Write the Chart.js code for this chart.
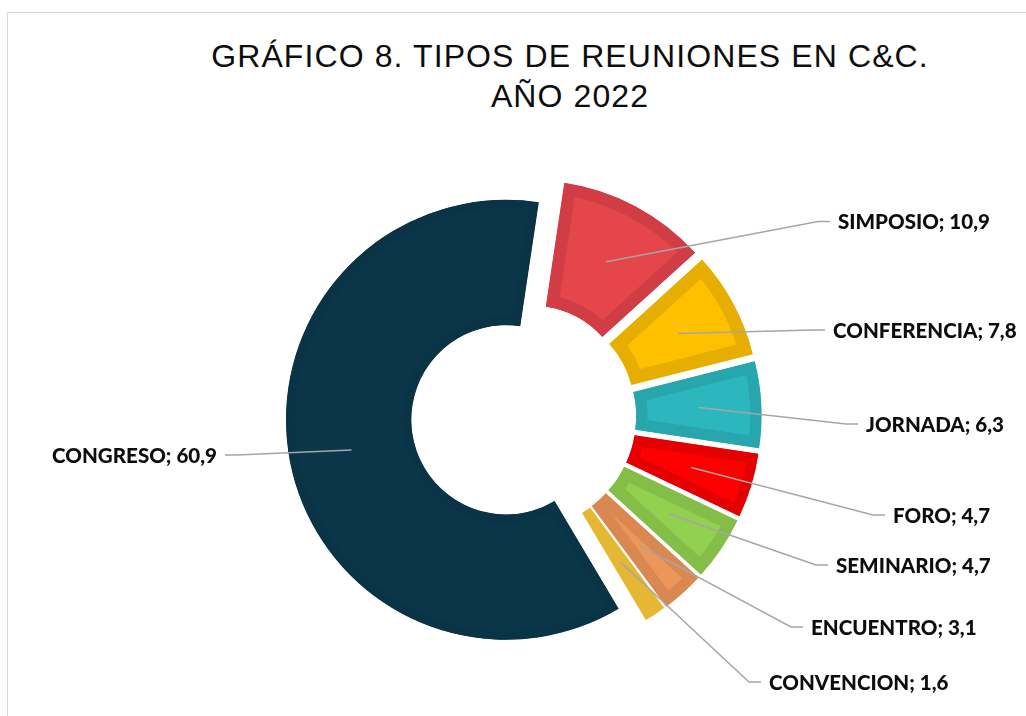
<!DOCTYPE html>
<html><head><meta charset="utf-8">
<script src="https://cdn.jsdelivr.net/npm/chart.js@4.4.1/dist/chart.umd.min.js"></script>
<style>
html,body{margin:0;padding:0;background:#fff;width:1026px;height:716px;overflow:hidden;}
#frame{position:absolute;left:7px;top:12px;width:1030px;height:720px;border-top:1px solid #d9d9d9;border-left:1px solid #d9d9d9;box-sizing:border-box;}
#title{position:absolute;left:170px;width:800px;top:36px;text-align:center;font-family:"Liberation Sans",Arial,sans-serif;font-size:32px;line-height:40px;letter-spacing:1.1px;color:#0d0d0d;}
#c{position:absolute;left:0;top:0;}
</style></head><body>
<div id="frame"></div>
<div id="title">GRÁFICO 8. TIPOS DE REUNIONES EN C&amp;C.<br>AÑO 2022</div>
<canvas id="c" width="1026" height="716"></canvas>
<script>
// ---- data ----
const categories = ['SIMPOSIO','CONFERENCIA','JORNADA','FORO','SEMINARIO','ENCUENTRO','CONVENCION','CONGRESO'];
const values = [10.9, 7.8, 6.3, 4.7, 4.7, 3.1, 1.6, 60.9];
const valueLabels = ['10,9','7,8','6,3','4,7','4,7','3,1','1,6','60,9'];

// ---- styles ----
const fillColors   = ['#E4464C','#FFC000','#2BB7BD','#FF0000','#92D050','#ED965A','#E5B834','#0B3649'];
const borderColors = ['#D13D45','#E6AE00','#27A7AD','#E40000','#84BD48','#D98852','#E5B834','#0A3345'];
const borderWidths = [12, 13, 11, 10, 12, 11, 0, 8];
// label anchor positions (text edge x, middle y, alignment)
const labelLayout = [
  [838, 221.5, 'left'],
  [833, 330, 'left'],
  [866, 424, 'left'],
  [893, 515, 'left'],
  [836, 565, 'left'],
  [811, 627, 'left'],
  [769, 682, 'left'],
  [217, 455, 'right']
];
const EXPLODE = 18;   // slice displacement in px (pure translation)

// shift every arc outwards along its bisector, keeping its radii
const explodePlugin = {
  id:'explode',
  afterDatasetsUpdate(chart){
    chart.getDatasetMeta(0).data.forEach(arc=>{
      const mid = (arc.startAngle+arc.endAngle)/2;
      arc.x += Math.cos(mid)*EXPLODE;
      arc.y += Math.sin(mid)*EXPLODE;
    });
  }
};

const labelPlugin = {
  id:'leaderLabels',
  afterDraw(chart){
    const ctx = chart.ctx;
    const meta = chart.getDatasetMeta(0);
    ctx.save();
    const fam = 'Lato, "Open Sans", sans-serif';
    ctx.font = '900 20px '+fam;
    const w = ctx.measureText('CONGRESO; 60,9').width;
    const fs = 20*165/w;
    ctx.font = '900 '+fs.toFixed(2)+'px '+fam;
    meta.data.forEach((arc,i)=>{
      const mid = (arc.startAngle+arc.endAngle)/2;
      const r = (arc.innerRadius+arc.outerRadius)/2;
      const ax = arc.x + Math.cos(mid)*r, ay = arc.y + Math.sin(mid)*r;
      const [tx,ty,al] = labelLayout[i];
      const dir = al==='left' ? -1 : 1;
      const ex = tx + dir*8, elx = tx + dir*20;
      ctx.strokeStyle = '#A6A6A6';
      ctx.lineWidth = 1.5;
      ctx.beginPath();
      ctx.moveTo(ax,ay);
      ctx.lineTo(elx,ty);
      ctx.lineTo(ex,ty);
      ctx.stroke();
      ctx.fillStyle = '#0D0D0D';
      ctx.textAlign = al;
      ctx.textBaseline = 'middle';
      ctx.fillText(categories[i]+'; '+valueLabels[i], tx, ty+1);
    });
    ctx.restore();
  }
};

new Chart(document.getElementById('c'), {
  type:'doughnut',
  data:{
    labels:categories,
    datasets:[{
      data:values,
      backgroundColor:fillColors,
      borderColor:borderColors,
      borderWidth:borderWidths,
      borderAlign:'inner',
      borderJoinStyle:'miter',
      offset:0,
      hoverOffset:0
    }]
  },
  options:{
    responsive:false,
    animation:false,
    rotation:8.5,
    radius:220,
    cutout:'43%',
    layout:{padding:{left:21.2,right:0,top:116.6,bottom:0}},
    plugins:{legend:{display:false},tooltip:{enabled:false},title:{display:false}},
    events:[]
  },
  plugins:[explodePlugin, labelPlugin]
});
</script>
</body></html>
